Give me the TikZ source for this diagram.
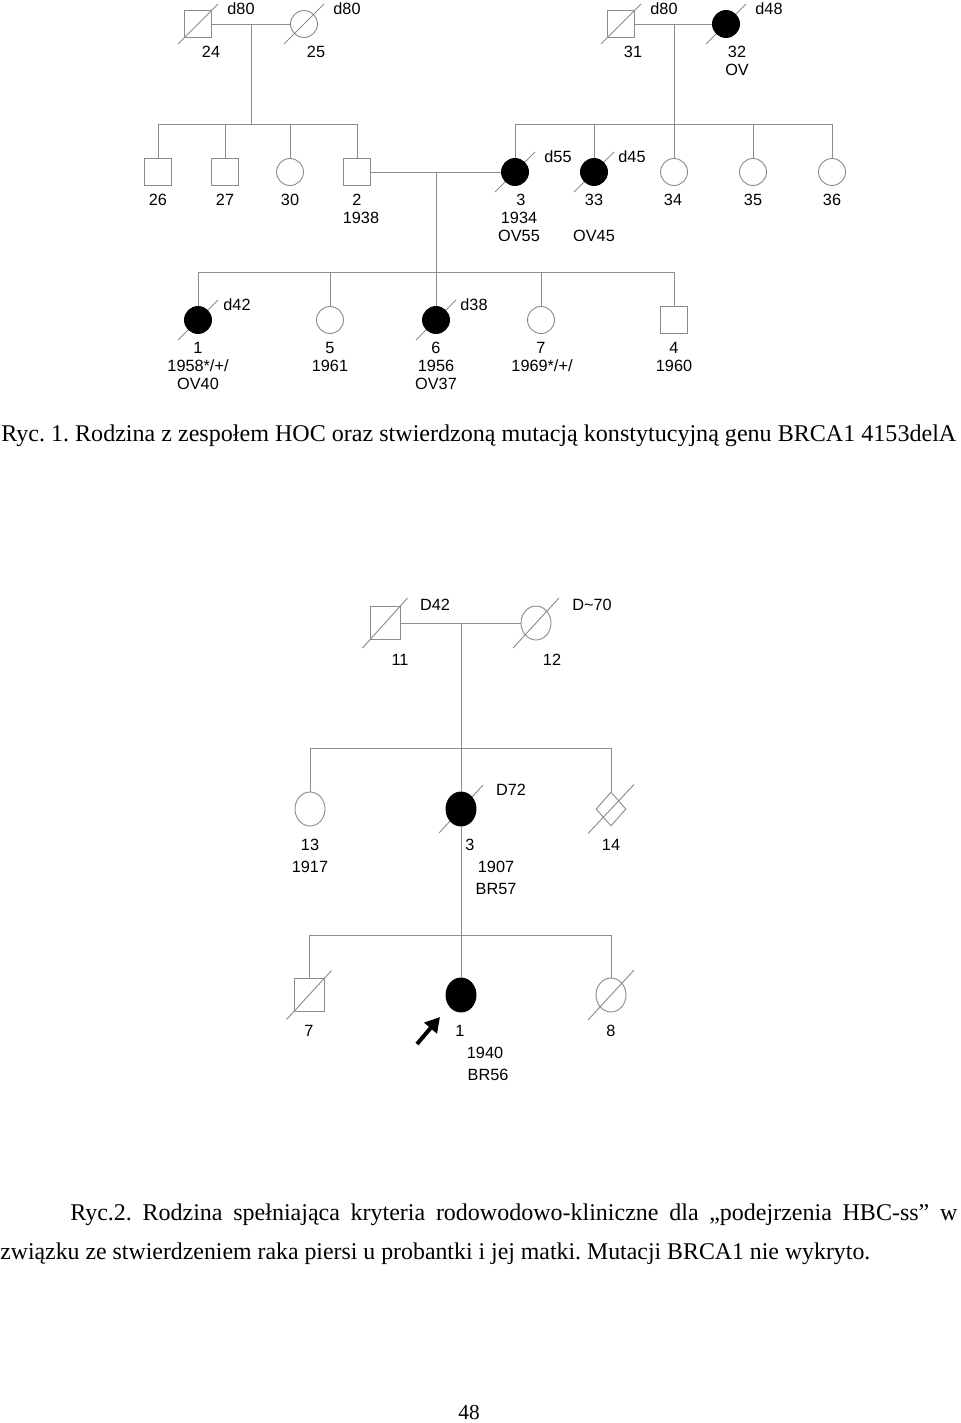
\documentclass[tikz,border=0pt]{standalone}
\usepackage{fontspec}
\setmainfont{Liberation Serif}
\newfontfamily\arialf{Liberation Sans}
\usepackage{graphicx}
\usetikzlibrary{shapes.geometric,arrows.meta}
\definecolor{pg}{RGB}{140,140,140}
\frenchspacing
\newsavebox\fitbox
\newdimen\fitdim
\newcommand\fitto[2]{\sbox\fitbox{#2}\fitdim=\wd\fitbox\pgfmathsetmacro\fitfac{#1/\the\fitdim}\scalebox{\fitfac}[1]{\usebox\fitbox}}
\newcommand\dslash[3]{\draw[dsl] (#1) ++(-#2,#3) -- ++(2*#2,-2*#3);}
\begin{document}
\begin{tikzpicture}[x=0.75pt,y=-0.75pt,
  ln/.style={draw=pg,line width=0.7pt},
  dsl/.style={draw=pg,line width=0.7pt},
  male/.style={rectangle,draw=pg,line width=0.7pt,minimum size=20.25pt,inner sep=0pt},
  female/.style={circle,draw=pg,line width=0.7pt,minimum size=20.25pt,inner sep=0pt},
  maleb/.style={rectangle,draw=pg,line width=0.7pt,minimum width=22.5pt,minimum height=24.75pt,inner sep=0pt},
  femaleb/.style={ellipse,draw=pg,line width=0.7pt,minimum width=22.5pt,minimum height=25.5pt,inner sep=0pt},
  unknownb/.style={diamond,draw=pg,line width=0.7pt,minimum width=22.5pt,minimum height=25.5pt,inner sep=0pt},
  aff/.style={fill=black,draw=black},
  lbl/.style={font=\arialf\fontsize{12.2}{14}\selectfont,inner sep=0pt,text height=8.7pt,text depth=0pt,anchor=center},
  capt/.style={font=\fontsize{18}{22}\selectfont,inner sep=0pt,anchor=base west},
  parrow/.style={draw=black,line width=3pt,-{Triangle[length=11pt,width=12pt]}}
]
\useasboundingbox (0,0) rectangle (960,1423);

% ---------- positions, pedigree 1 ----------
\coordinate (p24) at (198,24);
\coordinate (p25) at (304,24);
\coordinate (p31) at (621,24);
\coordinate (p32) at (726,24);
\coordinate (p26) at (158,172);
\coordinate (p27) at (225,172);
\coordinate (p30) at (290,172);
\coordinate (p2) at (357,172);
\coordinate (p3) at (515,172);
\coordinate (p33) at (594,172);
\coordinate (p34) at (674,172);
\coordinate (p35) at (753,172);
\coordinate (p36) at (832,172);
\coordinate (p1) at (198,320);
\coordinate (p5) at (330,320);
\coordinate (p6) at (436,320);
\coordinate (p7) at (541,320);
\coordinate (p4) at (674,320);
% ---------- positions, pedigree 2 ----------
\coordinate (q11) at (385,623);
\coordinate (q12) at (536,623);
\coordinate (q13) at (310,809);
\coordinate (q3) at (461,809);
\coordinate (q14) at (611,809);
\coordinate (r7) at (309,995);
\coordinate (r1) at (461,995);
\coordinate (r8) at (611,995);

% deceased slashes (behind symbols)
\dslash{p24}{20}{20}
\dslash{p25}{20}{20}
\dslash{p31}{20}{20}
\dslash{p32}{20}{20}
\dslash{p3}{20}{20}
\dslash{p33}{20}{20}
\dslash{p1}{20}{20}
\dslash{p6}{20}{20}
\dslash{q11}{22.5}{25}
\dslash{q12}{23}{25}
\dslash{q3}{22}{24}
\dslash{q14}{23}{24.5}
\dslash{r7}{22.5}{24.5}
\dslash{r8}{23}{25}

% ---------- symbols, pedigree 1 ----------
\node[male] (n24) at (p24) {};
\node[female] (n25) at (p25) {};
\node[male] (n31) at (p31) {};
\node[female,aff] (n32) at (p32) {};
\node[male] (n26) at (p26) {};
\node[male] (n27) at (p27) {};
\node[female] (n30) at (p30) {};
\node[male] (n2) at (p2) {};
\node[female,aff] (n3) at (p3) {};
\node[female,aff] (n33) at (p33) {};
\node[female] (n34) at (p34) {};
\node[female] (n35) at (p35) {};
\node[female] (n36) at (p36) {};
\node[female,aff] (n1) at (p1) {};
\node[female] (n5) at (p5) {};
\node[female,aff] (n6) at (p6) {};
\node[female] (n7) at (p7) {};
\node[male] (n4) at (p4) {};

% ---------- symbols, pedigree 2 ----------
\node[maleb] (m11) at (q11) {};
\node[femaleb] (m12) at (q12) {};
\node[femaleb] (m13) at (q13) {};
\node[femaleb,aff] (m3) at (q3) {};
\node[unknownb] (m14) at (q14) {};
\node[maleb] (k7) at (r7) {};
\node[femaleb,aff] (k1) at (r1) {};
\node[femaleb] (k8) at (r8) {};

% ---------- connectors, pedigree 1 ----------
\coordinate (mar1) at (251,24);
\coordinate (s1) at (0,124);
\draw[ln] (n24.east) -- (n25.west);
\draw[ln] (mar1) -- (mar1 |- s1);
\draw[ln] (n26.north |- s1) -- (n2.north |- s1);
\foreach \c in {n26,n27,n30,n2} \draw[ln] (\c.north) -- (\c.north |- s1);

\coordinate (mar2) at (674,24);
\draw[ln] (n31.east) -- (n32.west);
\draw[ln] (mar2) -- (mar2 |- s1);
\draw[ln] (n3.north |- s1) -- (n36.north |- s1);
\foreach \c in {n3,n33,n34,n35,n36} \draw[ln] (\c.north) -- (\c.north |- s1);

\coordinate (mar3) at (436,172);
\coordinate (s2) at (0,272);
\draw[ln] (n2.east) -- (n3.west);
\draw[ln] (mar3) -- (mar3 |- s2);
\draw[ln] (n1.north |- s2) -- (n4.north |- s2);
\foreach \c in {n1,n5,n6,n7,n4} \draw[ln] (\c.north) -- (\c.north |- s2);

% ---------- connectors, pedigree 2 ----------
\coordinate (mar4) at (461,623);
\coordinate (s3) at (0,748);
\coordinate (s4) at (0,935);
\draw[ln] (m11.east) -- (m12.west);
\draw[ln] (mar4) -- (mar4 |- s3);
\draw[ln] (m13.north |- s3) -- (m14.north |- s3);
\foreach \c in {m13,m3,m14} \draw[ln] (\c.north) -- (\c.north |- s3);
\draw[ln] (m3.south) -- (m3.south |- s4);
\draw[ln] (k7.north |- s4) -- (k8.north |- s4);
\foreach \c in {k7,k1,k8} \draw[ln] (\c.north) -- (\c.north |- s4);

% proband arrow
\coordinate (pa0) at (417,1044);
\coordinate (pa1) at (440,1017);
\draw[parrow] (pa0) -- (pa1);

% ---------- labels, pedigree 1 ----------
\node[lbl] (t24) at (211,52) {24};
\node[lbl] (d24) at (241,9) {d80};
\node[lbl] (t25) at (316,52) {25};
\node[lbl] (d25) at (347,9) {d80};
\node[lbl] (t31) at (633,52) {31};
\node[lbl] (d31) at (664,9) {d80};
\node[lbl] (t32) at (737,52) {32};
\node[lbl] (o32) at (737,70) {OV};
\node[lbl] (d32) at (769,9) {d48};

\node[lbl] (t26) at (158,200) {26};
\node[lbl] (t27) at (225,200) {27};
\node[lbl] (t30) at (290,200) {30};
\node[lbl] (t2) at (357,200) {2};
\node[lbl] (y2) at (361,218) {1938};
\node[lbl] (t3) at (521,200) {3};
\node[lbl] (y3) at (519,218) {1934};
\node[lbl] (o3) at (519,236) {OV55};
\node[lbl] (d3) at (558,157) {d55};
\node[lbl] (t33) at (594,200) {33};
\node[lbl] (o33) at (594,236) {OV45};
\node[lbl] (d33) at (632,157) {d45};
\node[lbl] (t34) at (673,200) {34};
\node[lbl] (t35) at (753,200) {35};
\node[lbl] (t36) at (832,200) {36};

\node[lbl] (t1) at (198,348) {1};
\node[lbl] (y1) at (198,366) {1958*/+/};
\node[lbl] (o1) at (198,384) {OV40};
\node[lbl] (d1) at (237,305) {d42};
\node[lbl] (t5) at (330,348) {5};
\node[lbl] (y5) at (330,366) {1961};
\node[lbl] (t6) at (436,348) {6};
\node[lbl] (y6) at (436,366) {1956};
\node[lbl] (o6) at (436,384) {OV37};
\node[lbl] (d6) at (474,305) {d38};
\node[lbl] (t7) at (541,348) {7};
\node[lbl] (y7) at (542,366) {1969*/+/};
\node[lbl] (t4) at (674,348) {4};
\node[lbl] (y4) at (674,366) {1960};

% ---------- labels, pedigree 2 ----------
\node[lbl] (u11) at (400,660) {11};
\node[lbl] (e11) at (435,605) {D42};
\node[lbl] (u12) at (552,660) {12};
\node[lbl] (e12) at (592,605) {D\textasciitilde70};
\node[lbl] (u13) at (310,845) {13};
\node[lbl] (z13) at (310,867) {1917};
\node[lbl] (u3) at (470,845) {3};
\node[lbl] (z3) at (496,867) {1907};
\node[lbl] (b3) at (496,889) {BR57};
\node[lbl] (e3) at (511,790) {D72};
\node[lbl] (u14) at (611,845) {14};
\node[lbl] (v7) at (309,1031) {7};
\node[lbl] (v1) at (460,1031) {1};
\node[lbl] (w1) at (485,1053) {1940};
\node[lbl] (b1) at (488,1075) {BR56};
\node[lbl] (v8) at (611,1031) {8};

% ---------- captions ----------
\node[capt] (cap1) at (1,441) {\fitto{716.25pt}{Ryc. 1. Rodzina z zespołem HOC oraz stwierdzoną mutacją konstytucyjną genu BRCA1 4153delA}};
\node[capt] (cap2a) at (70,1220) {\makebox[665.25pt][s]{Ryc.2. Rodzina spełniająca kryteria rodowodowo-kliniczne dla „podejrzenia HBC-ss” w}};
\node[capt] (cap2b) at (0,1259) {\fitto{652.5pt}{związku ze stwierdzeniem raka piersi u probantki i jej matki. Mutacji BRCA1 nie wykryto.}};
\node[font=\fontsize{16}{18}\selectfont,inner sep=0pt,anchor=base] (pgno) at (469,1419) {48};
\end{tikzpicture}
\end{document}
